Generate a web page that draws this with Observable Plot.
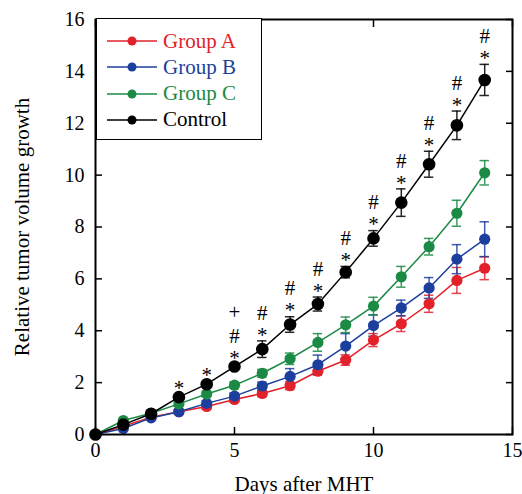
<!DOCTYPE html>
<html>
<head>
<meta charset="utf-8">
<script src="https://cdn.jsdelivr.net/npm/d3@7"></script>
<script src="https://cdn.jsdelivr.net/npm/@observablehq/plot@0.6"></script>
<style>
  body { margin: 0; background: #fff; }
  #wrap { position: relative; width: 522px; height: 494px; font-family: "Liberation Serif", "Times New Roman", serif; }
  #legend { position: absolute; left: 96px; top: 18px; width: 166px; height: 122px; border: 1.5px solid #000; box-sizing: border-box; background: #fff; }
  .row { position: absolute; left: 10px; height: 22px; display: flex; align-items: center; font-size: 21px; white-space: nowrap; font-family: "Liberation Serif", serif; }
  .row span { font-family: "Liberation Serif", serif; }
  .row svg { margin-right: 6px; }
</style>
</head>
<body>
<div id="wrap"></div>
<script>
const days = [0,1,2,3,4,5,6,7,8,9,10,11,12,13,14];
const groupA = [0,0.32,0.67,0.88,1.08,1.35,1.58,1.88,2.44,2.87,3.64,4.27,5.04,5.94,6.41];
const groupAErr = [0,0.05,0.05,0.08,0.1,0.1,0.12,0.15,0.15,0.2,0.25,0.3,0.33,0.5,0.44];
const groupB = [0,0.23,0.64,0.88,1.2,1.48,1.87,2.24,2.69,3.41,4.2,4.88,5.65,6.76,7.53];
const groupBErr = [0,0.05,0.05,0.08,0.1,0.12,0.15,0.3,0.37,0.48,0.41,0.3,0.4,0.56,0.67];
const groupC = [0,0.54,0.82,1.18,1.56,1.9,2.36,2.92,3.55,4.23,4.95,6.08,7.24,8.53,10.09];
const groupCErr = [0,0.05,0.05,0.08,0.1,0.12,0.15,0.22,0.34,0.3,0.34,0.4,0.32,0.5,0.47];
const control = [0,0.38,0.8,1.44,1.94,2.62,3.29,4.24,5.03,6.26,7.56,8.94,10.42,11.92,13.67];
const controlErr = [0,0.05,0.08,0.1,0.1,0.1,0.32,0.3,0.27,0.22,0.3,0.53,0.5,0.55,0.6];
const starDays = [3,4,5,6,7,8,9,10,11,12,13,14];
const hashDays = [5,6,7,8,9,10,11,12,13,14];
const plusDays = [5];
const seriesNames = ["Group A","Group B","Group C","Control"];
const seriesColors = ["#e3212b","#1c3f9e","#1b8a45","#000000"];
const xTicks = [0,5,10,15];
const yTicks = [0,2,4,6,8,10,12,14,16];

const seriesVals = [groupA, groupB, groupC, control];
const seriesErrs = [groupAErr, groupBErr, groupCErr, controlErr];
const rows = [];
seriesNames.forEach((name, i) => {
  days.forEach((d, j) => rows.push({series: name, color: seriesColors[i], day: d, v: seriesVals[i][j], e: seriesErrs[i][j]}));
});
const ctrl = rows.filter(r => r.series === "Control");
const capHalf = 0.17;

const marks = [];
seriesNames.forEach((name, i) => {
  const data = rows.filter(r => r.series === name);
  const c = seriesColors[i];
  marks.push(Plot.line(data, {x: "day", y: "v", stroke: c, strokeWidth: 1.5}));
  marks.push(Plot.ruleX(data, {x: "day", y1: d => d.v - d.e, y2: d => d.v + d.e, stroke: c, strokeWidth: 1.5, strokeOpacity: 0.85}));
  marks.push(Plot.ruleY(data, {y: d => d.v + d.e, x1: d => d.day - capHalf, x2: d => d.day + capHalf, stroke: c, strokeWidth: 1.5, strokeOpacity: 0.85}));
  marks.push(Plot.ruleY(data, {y: d => d.v - d.e, x1: d => d.day - capHalf, x2: d => d.day + capHalf, stroke: c, strokeWidth: 1.5, strokeOpacity: 0.85}));
});
seriesNames.forEach((name, i) => {
  const data = rows.filter(r => r.series === name);
  marks.push(Plot.dot(data, {x: "day", y: "v", fill: seriesColors[i], r: name === "Control" ? 6.3 : 5.6}));
});
const annoFont = {fontSize: 21, fill: "#000", fontFamily: "Liberation Serif"};
marks.push(Plot.text(ctrl.filter(d => starDays.includes(d.day)), {x: "day", y: d => d.v + d.e, text: () => "*", dy: -6, ...annoFont}));
marks.push(Plot.text(ctrl.filter(d => hashDays.includes(d.day)), {x: "day", y: d => d.v + d.e, text: () => "#", dy: -28, ...annoFont}));
marks.push(Plot.text(ctrl.filter(d => plusDays.includes(d.day)), {x: "day", y: d => d.v + d.e, text: () => "+", dy: -52, ...annoFont}));

const chart = Plot.plot({
  width: 522,
  height: 494,
  marginLeft: 95,
  marginRight: 10,
  marginTop: 19,
  marginBottom: 60,
  style: {fontFamily: "Liberation Serif", fontSize: "20px", color: "#000", background: "#fff"},
  x: {domain: [0, 15]},
  y: {domain: [0, 16]},
  marks: [
    Plot.axisX({anchor: "bottom", ticks: xTicks, tickSize: 0, tickPadding: 8, fontSize: 20, label: null}),
    Plot.axisX({anchor: "bottom", ticks: xTicks, tickSize: 0, text: null, fontSize: 21, label: "Days after MHT", labelAnchor: "center", labelOffset: 56, labelArrow: "none"}),
    Plot.axisX({anchor: "bottom", ticks: xTicks, tickSize: -7, text: null, label: null, strokeWidth: 1.5}),
    Plot.axisX({anchor: "top", ticks: xTicks, tickSize: -7, text: null, label: null, strokeWidth: 1.5}),
    Plot.axisY({anchor: "left", ticks: yTicks, tickSize: 0, tickPadding: 11, fontSize: 20, label: null}),
    Plot.axisY({anchor: "left", ticks: yTicks, tickSize: 0, text: null, fontSize: 21, label: "Relative tumor volume growth", labelAnchor: "center", labelOffset: 81, labelArrow: "none"}),
    Plot.axisY({anchor: "left", ticks: yTicks, tickSize: -7, text: null, label: null, strokeWidth: 1.5}),
    Plot.axisY({anchor: "right", ticks: yTicks, tickSize: -7, text: null, label: null, strokeWidth: 1.5}),
    ...marks,
    Plot.frame({stroke: "#000", strokeWidth: 2})
  ]
});
const wrap = document.getElementById("wrap");
wrap.appendChild(chart);

const legend = document.createElement("div");
legend.id = "legend";
seriesNames.forEach((name, i) => {
  const row = document.createElement("div");
  row.className = "row";
  row.style.top = (11 + i * 26.3) + "px";
  row.style.color = seriesColors[i];
  row.innerHTML = `<svg width="50" height="12"><line x1="0" y1="6" x2="50" y2="6" stroke="${seriesColors[i]}" stroke-width="1.5"/><circle cx="25" cy="6" r="4.5" fill="${seriesColors[i]}"/></svg><span>${name}</span>`;
  legend.appendChild(row);
});
wrap.appendChild(legend);
</script>
</body>
</html>
